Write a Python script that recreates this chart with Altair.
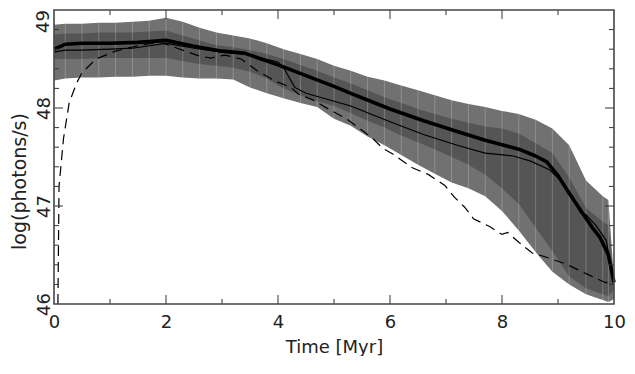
import altair as alt
import pandas as pd

# ---------------- data ----------------
# band sample times (Myr)
band_t = [0, 0.2, 0.5, 0.8, 1.1, 1.4, 1.7, 2.0, 2.3, 2.6, 2.9, 3.2, 3.5, 3.8,
          4.1, 4.4, 4.7, 5.0, 5.3, 5.6, 5.9, 6.2, 6.5, 6.8, 7.1, 7.4, 7.7,
          8.0, 8.3, 8.6, 8.9, 9.2, 9.5, 9.8, 9.9, 10.0]
outer_hi = [48.85, 48.86, 48.86, 48.87, 48.87, 48.88, 48.89, 48.92, 48.88, 48.82,
            48.77, 48.74, 48.71, 48.66, 48.60, 48.55, 48.50, 48.43, 48.38, 48.32,
            48.28, 48.23, 48.18, 48.13, 48.08, 48.04, 48.01, 47.97, 47.94, 47.88,
            47.79, 47.62, 47.26, 47.10, 47.06, 46.25]
inner_hi = [48.75, 48.76, 48.76, 48.77, 48.77, 48.77, 48.78, 48.79, 48.74, 48.69,
            48.64, 48.62, 48.59, 48.55, 48.50, 48.44, 48.38, 48.31, 48.25, 48.18,
            48.11, 48.05, 47.99, 47.94, 47.89, 47.85, 47.81, 47.79, 47.74, 47.64,
            47.54, 47.29, 46.98, 46.84, 46.80, 46.22]
inner_lo = [48.50, 48.50, 48.50, 48.51, 48.51, 48.51, 48.51, 48.51, 48.48, 48.45,
            48.43, 48.41, 48.37, 48.30, 48.20, 48.13, 48.07, 48.02, 47.95, 47.87,
            47.80, 47.72, 47.65, 47.58, 47.50, 47.42, 47.32, 47.18, 47.02, 46.78,
            46.54, 46.28, 46.16, 46.10, 46.08, 46.15]
outer_lo = [48.28, 48.30, 48.31, 48.31, 48.32, 48.32, 48.33, 48.33, 48.31, 48.30,
            48.30, 48.29, 48.21, 48.15, 48.10, 48.05, 48.01, 47.89, 47.82, 47.71,
            47.62, 47.52, 47.42, 47.33, 47.24, 47.18, 47.10, 46.95, 46.75, 46.53,
            46.33, 46.20, 46.10, 46.04, 46.02, 46.05]

# thick solid line (median)
thick_t = [0, 0.2, 0.5, 1.0, 1.5, 2.0, 2.5, 3.0, 3.4, 4.0, 4.5, 5.0, 5.3, 6.0,
           6.6, 7.2, 7.7, 8.3, 8.6, 8.8, 9.0, 9.2, 9.4, 9.6, 9.75, 9.9, 10.0]
thick_v = [48.60, 48.65, 48.66, 48.66, 48.67, 48.69, 48.63, 48.58, 48.56, 48.44,
           48.33, 48.22, 48.15, 47.99, 47.87, 47.76, 47.67, 47.58, 47.51, 47.45,
           47.31, 47.13, 46.96, 46.79, 46.68, 46.50, 46.22]

# thin solid line
thin_t = [0, 0.2, 0.5, 1.0, 1.4, 2.0, 2.5, 3.0, 3.4, 4.0, 4.1, 4.3, 4.5, 5.3,
          6.0, 6.6, 7.2, 7.7, 8.2, 8.5, 8.85, 9.05, 9.27, 9.4, 9.5, 9.68, 9.86, 10.0]
thin_v = [48.57, 48.59, 48.59, 48.60, 48.61, 48.66, 48.61, 48.57, 48.55, 48.47,
          48.41, 48.21, 48.15, 48.02, 47.86, 47.73, 47.62, 47.54, 47.51, 47.46,
          47.37, 47.26, 47.09, 46.93, 46.91, 46.80, 46.65, 46.22]

# dashed line
dash_t = [0.07, 0.09, 0.17, 0.27, 0.4, 0.5, 0.75, 1.1, 1.3, 1.63, 1.9, 2.1, 2.35,
          2.6, 2.8, 3.05, 3.34, 3.63, 3.93, 4.23, 4.37, 4.63, 4.93, 5.22, 5.46,
          5.69, 5.87, 6.05, 6.4, 6.69, 6.98, 7.15, 7.33, 7.49, 7.78, 8.0, 8.1,
          8.3, 8.54, 8.78, 9.13, 9.54, 9.84, 10.0]
dash_v = [46.0, 47.2, 47.69, 48.05, 48.25, 48.36, 48.50, 48.58, 48.61, 48.65,
          48.67, 48.63, 48.58, 48.53, 48.51, 48.54, 48.50, 48.38, 48.28, 48.21,
          48.14, 48.08, 47.98, 47.89, 47.79, 47.69, 47.59, 47.53, 47.39, 47.32,
          47.21, 47.09, 46.99, 46.87, 46.79, 46.71, 46.73, 46.63, 46.52, 46.48,
          46.41, 46.30, 46.22, 46.21]

# axis labels and tick marks
x_labels = [0, 2, 4, 6, 8, 10]
y_labels = [46, 47, 48]
y_top_label = [49]
x_major_ticks = [2, 4, 6, 8]
x_minor_ticks = [1, 3, 5, 7, 9]
y_major_ticks = [47, 48]
y_minor_ticks = [46.2, 46.4, 46.6, 46.8, 47.2, 47.4, 47.6, 47.8,
                 48.2, 48.4, 48.6, 48.8]

# ---------------- chart ----------------
W, H = 560, 294
PAD = {"left": 46, "top": 2, "right": 12, "bottom": 52}
FONT = "DejaVu Sans"
XT = "Time [Myr]"
YT = "log(photons/s)"

xs = alt.Scale(domain=[0, 10], nice=False, zero=False)
ys = alt.Scale(domain=[46, 49], nice=False, zero=False)

x_axis = alt.Axis(values=x_labels, format="d", ticks=False, tickSize=0, domain=False,
                  grid=False, labelFont=FONT, labelFontSize=18, labelColor="#222",
                  labelPadding=9, labelFlush=False, labelOverlap=False,
                  titleFont=FONT, titleFontSize=18, titleFontWeight="normal",
                  titleColor="#222", titleX=W / 2, titleY=48,
                  titleAlign="center", titleBaseline="alphabetic")
y_axis = alt.Axis(values=y_labels, format="d", ticks=False, tickSize=0, domain=False,
                  grid=False, labelFont=FONT, labelFontSize=18, labelColor="#222",
                  labelAngle=270, labelAlign="center", labelBaseline="alphabetic",
                  labelPadding=5, labelFlush=False, labelOverlap=False,
                  titleFont=FONT, titleFontSize=19, titleFontWeight="normal",
                  titleColor="#222", titleAngle=270, titleX=-29, titleY=171,
                  titleAlign="center", titleBaseline="alphabetic")


def X(field):
    return alt.X(field, scale=xs, axis=x_axis, title=XT)


def Y(field):
    return alt.Y(field, scale=ys, axis=y_axis, title=YT)


band_df = pd.DataFrame({"t": band_t, "ot": outer_hi, "it": inner_hi,
                        "ib": inner_lo, "ob": outer_lo})
base = alt.Chart(band_df)

outer = base.mark_area(color="#717171", opacity=1).encode(
    x=X("t:Q"), y=Y("ob:Q"), y2="ot:Q")
inner = base.mark_area(color="#555555", opacity=1).encode(
    x=X("t:Q"), y=Y("ib:Q"), y2="it:Q")
seams = base.mark_rule(color="white", opacity=0.22, strokeWidth=1).encode(
    x=X("t:Q"), y=Y("ob:Q"), y2="ot:Q")

dashed = alt.Chart(pd.DataFrame({"t": dash_t, "v": dash_v})).mark_line(
    color="black", strokeWidth=1.2, strokeDash=[10, 6]).encode(x=X("t:Q"), y=Y("v:Q"))
thin = alt.Chart(pd.DataFrame({"t": thin_t, "v": thin_v})).mark_line(
    color="black", strokeWidth=1.2).encode(x=X("t:Q"), y=Y("v:Q"))
thick = alt.Chart(pd.DataFrame({"t": thick_t, "v": thick_v})).mark_line(
    color="black", strokeWidth=3.6, strokeJoin="round").encode(x=X("t:Q"), y=Y("v:Q"))

TICK_C = "#333333"
MAJ, MIN = 9, 5


def xticks(vals, length):
    d = alt.Chart(pd.DataFrame({"tx": vals}))
    bottom = d.mark_rule(color=TICK_C, strokeWidth=1).encode(
        x=X("tx:Q"), y=alt.value(H), y2=alt.value(H - length))
    top = d.mark_rule(color=TICK_C, strokeWidth=1).encode(
        x=X("tx:Q"), y=alt.value(0), y2=alt.value(length))
    return [bottom, top]


def yticks(vals, length):
    d = alt.Chart(pd.DataFrame({"ty": vals}))
    left = d.mark_rule(color=TICK_C, strokeWidth=1).encode(
        y=Y("ty:Q"), x=alt.value(0), x2=alt.value(length))
    right = d.mark_rule(color=TICK_C, strokeWidth=1).encode(
        y=Y("ty:Q"), x=alt.value(W), x2=alt.value(W - length))
    return [left, right]


# the top "49" label, kept inside the page (flush with the top of the axis)
top_label = alt.Chart(pd.DataFrame({"ty": y_top_label})).mark_text(
    angle=270, align="right", baseline="alphabetic", font=FONT, fontSize=18,
    color="#222").encode(y=Y("ty:Q"), x=alt.value(-5), text=alt.Text("ty:Q", format="d"))

frame = alt.Chart(pd.DataFrame({"f": [0]})).mark_rect(
    filled=False, stroke="#454545", strokeWidth=1.6).encode(
    x=alt.value(0), x2=alt.value(W), y=alt.value(0), y2=alt.value(H))

layers = [outer, inner, seams, dashed, thin, thick]
layers += xticks(x_major_ticks, MAJ) + xticks(x_minor_ticks, MIN)
layers += yticks(y_major_ticks, MAJ) + yticks(y_minor_ticks, MIN)
layers += [top_label, frame]

chart = alt.layer(*layers).properties(
    width=W, height=H, autosize="none", padding=PAD, background="white",
).configure_view(stroke=None)

chart.save("out.html", embed_options={"renderer": "svg", "actions": False})
